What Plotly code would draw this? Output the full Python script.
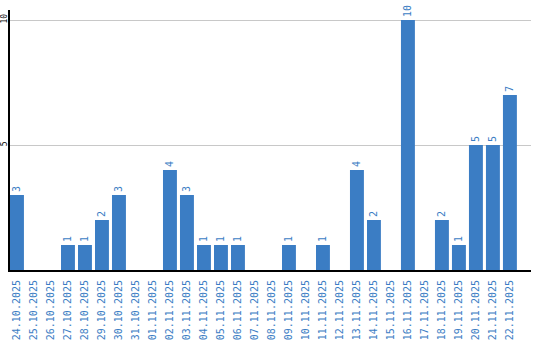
import plotly.graph_objects as go

dates = ["24.10.2025","25.10.2025","26.10.2025","27.10.2025","28.10.2025","29.10.2025",
         "30.10.2025","31.10.2025","01.11.2025","02.11.2025","03.11.2025","04.11.2025",
         "05.11.2025","06.11.2025","07.11.2025","08.11.2025","09.11.2025","10.11.2025",
         "11.11.2025","12.11.2025","13.11.2025","14.11.2025","15.11.2025","16.11.2025",
         "17.11.2025","18.11.2025","19.11.2025","20.11.2025","21.11.2025","22.11.2025"]
values = [3,0,0,1,1,2,3,0,0,4,3,1,1,1,0,0,1,0,1,0,4,2,0,10,0,2,1,5,5,7]
labels = [str(v) if v else "" for v in values]

blue = "#3b7dc4"
fig = go.Figure(go.Bar(
    x=dates, y=values, text=labels, textposition="outside", textangle=-90,
    textfont=dict(color=blue, size=10, family="DejaVu Sans Mono"),
    marker=dict(color=blue, line=dict(width=0)), cliponaxis=False,
))
fig.update_layout(
    width=540, height=340, margin=dict(l=10, r=9, t=10, b=70, autoexpand=False),
    paper_bgcolor="white", plot_bgcolor="white", bargap=0.18, showlegend=False,
    font=dict(family="DejaVu Sans Mono"),
)
fig.update_xaxes(type="category", range=[-0.41, 30.24], tickangle=-90, automargin=False,
                 tickfont=dict(color=blue, size=10, family="DejaVu Sans Mono"),
                 showline=True, linecolor="black", linewidth=2, ticks="", showgrid=False,
                 ticklabelstandoff=4)
fig.update_yaxes(range=[0, 10.4], tickvals=[5, 10], tickangle=-90, automargin=False,
                 tickfont=dict(color="black", size=8, family="DejaVu Sans Mono"),
                 showline=True, linecolor="black", linewidth=2, ticks="",
                 showgrid=True, gridcolor="#c8c8c8", gridwidth=1, zeroline=False,
                 ticklabelstandoff=-2)
fig.write_html("out.html")
